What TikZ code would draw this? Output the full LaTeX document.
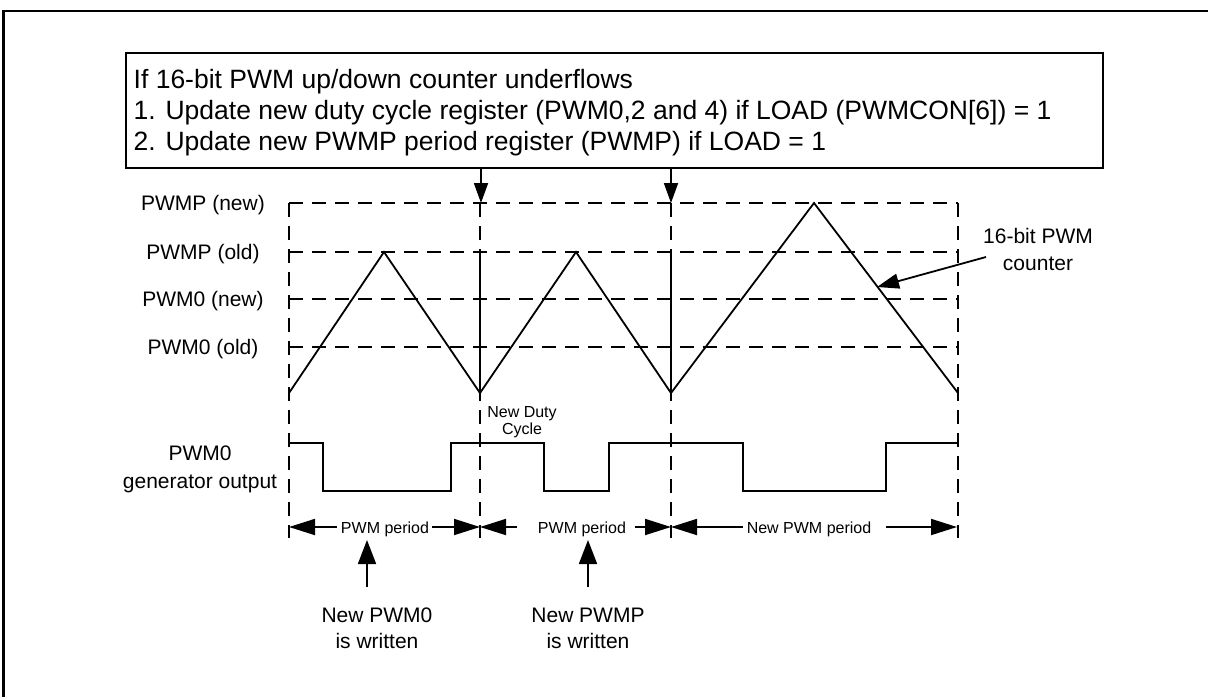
\documentclass[tikz,border=0pt]{standalone}
\usepackage{fontspec}
\setmainfont{Liberation Sans}
\usetikzlibrary{arrows.meta}
\begin{document}
\begin{tikzpicture}[x=1pt,y=-1pt,
  frame/.style={line width=2.6pt},
  gridln/.style={line width=1.8pt, dash pattern=on 14pt off 9pt},
  wave/.style={line width=1.8pt, line join=miter},
  boxtxt/.style={font=\fontsize{26.5}{30}\selectfont, inner sep=0pt, anchor=base west},
  lbl/.style={font=\fontsize{21}{25}\selectfont, inner sep=0pt, anchor=base},
  sml/.style={font=\fontsize{16}{18}\selectfont, inner sep=0pt, anchor=base},
  downarr/.style={line width=1.8pt, -{Triangle[length=20pt,width=14pt]}},
  dimarr/.style={line width=1.8pt, -{Triangle[length=26pt,width=16pt]}},
  uparr/.style={line width=1.8pt, -{Triangle[length=24pt,width=18pt]}},
  ptrarr/.style={line width=1.8pt, -{Triangle[length=22pt,width=15pt]}}
]
\path[use as bounding box] (0,0) rectangle (1208,697);
% outer frame (only top and left edge visible)
\draw[frame] (3.5,697) -- (3.5,11) -- (1208,11);

% top box
\node[draw, line width=1.8pt, anchor=north west, minimum width=977pt, minimum height=115pt, inner sep=0pt] (ubox) at (125,52) {};
\node[boxtxt] (t1) at (133.5,88) {If 16-bit PWM up/down counter underflows};
\node[boxtxt] (t2) at (133.5,119) {1. Update new duty cycle register (PWM0,2 and 4) if LOAD (PWMCON[6]) = 1};
\node[boxtxt] (t3) at (133.5,150) {2. Update new PWMP period register (PWMP) if LOAD = 1};

% arrows from box
\coordinate (u1) at (481,203);
\coordinate (u2) at (671,203);
\draw[downarr] (ubox.south -| u1) -- (u1);
\draw[downarr] (ubox.south -| u2) -- (u2);

% level labels
\node[lbl] (lpn) at (203,210.5) {PWMP (new)};
\node[lbl] (lpo) at (203,259.5) {PWMP (old)};
\node[lbl] (l0n) at (203,306.5) {PWM0 (new)};
\node[lbl] (l0o) at (203,354.5) {PWM0 (old)};

% dashed grid
\foreach \yy in {203,252,299,347} \draw[gridln] (289,\yy) -- (958,\yy);
\foreach \xx in {289,480,671,958} \draw[gridln] (\xx,203) -- (\xx,538);

% solid verticals at underflow points
\draw[wave] (480,252) -- (480,393);
\draw[wave] (671,252) -- (671,393);

% triangle counter
\draw[wave] (289,393) -- (384,252) -- (480,393) -- (576,252) -- (671,393) -- (814,203) -- (958,393);

% counter label
\node[lbl] (cl1) at (1038,243) {16-bit PWM};
\node[lbl] (cl2) at (1038,270) {counter};
\coordinate (ctail) at (986,257);
\coordinate (ctip) at (877,287);
\draw[ptrarr] (ctail) -- (ctip);

% new duty cycle label
\node[sml] (nd1) at (522,417) {New Duty};
\node[sml] (nd2) at (522,434) {Cycle};

% PWM0 output
\node[lbl] (g1) at (200,460) {PWM0};
\node[lbl] (g2) at (200,488) {generator output};
\draw[wave] (289,443) -- (323,443) -- (323,491) -- (451,491) -- (451,443) -- (544,443) -- (544,491) -- (609,491) -- (609,443) -- (743,443) -- (743,491) -- (886,491) -- (886,443) -- (957,443);

% period dimension lines
\node[sml] (p1) at (385,533) {PWM period};
\node[sml] (p2) at (582,533) {PWM period};
\node[sml] (p3) at (809,533) {New PWM period};
\coordinate (d0) at (289,527);
\coordinate (d1) at (480,527);
\coordinate (d2) at (671,527);
\coordinate (d3) at (957,527);
\coordinate (e1l) at (337,527);
\coordinate (e1r) at (432,527);
\coordinate (e2l) at (517,527);
\coordinate (e2r) at (635,527);
\coordinate (e3l) at (743,527);
\coordinate (e3r) at (886,527);
\draw[dimarr] (e1l) -- (d0);
\draw[dimarr] (e1r) -- (d1);
\draw[dimarr] (e2l) -- (d1);
\draw[dimarr] (e2r) -- (d2);
\draw[dimarr] (e3l) -- (d2);
\draw[dimarr] (e3r) -- (d3);

% write events
\node[lbl] (w1a) at (377,622) {New PWM0};
\node[lbl] (w1b) at (377,648) {is written};
\node[lbl] (w2a) at (588,622) {New PWMP};
\node[lbl] (w2b) at (588,648) {is written};
\coordinate (w1t) at (367,540);
\coordinate (w2t) at (588,540);
\draw[uparr] (367,587) -- (w1t);
\draw[uparr] (588,587) -- (w2t);
\end{tikzpicture}
\end{document}
